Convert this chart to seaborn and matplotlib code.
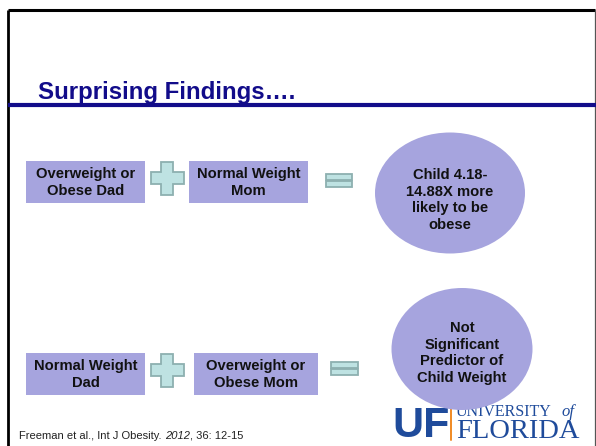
import matplotlib
matplotlib.use("Agg")
import matplotlib.pyplot as plt
import seaborn as sns
from matplotlib.patches import Rectangle, Ellipse, Polygon

sns.set_theme(style="white")
plt.rcParams['font.family'] = ['Liberation Sans', 'DejaVu Sans']

# ---- content ----
title = "Surprising Findings\u2026."
row1_left = "Overweight or\nObese Dad"
row1_mid = "Normal Weight\nMom"
row1_result = "Child 4.18-\n14.88X more\nlikely to be\nobese"
row2_left = "Normal Weight\nDad"
row2_mid = "Overweight or\nObese Mom"
row2_result = "Not\nSignificant\nPredictor of\nChild Weight"
cite_parts = ["Freeman et al., Int J Obesity. ", "2012", ", 36: 12-15"]
cite_styles = ["normal", "italic", "normal"]

# ---- colours ----
BOX = "#A6A4DE"
PLUS_FILL = "#BEE2E2"
PLUS_EDGE = "#8DB0B0"
NAVY = "#120C8A"
UF_BLUE = "#1F4B9B"
UF_ORANGE = "#F08A24"

W, H = 596, 446
fig = plt.figure(figsize=(W / 100, H / 100), dpi=100)
ax = fig.add_axes([0, 0, 1, 1])
ax.set_xlim(0, W)
ax.set_ylim(H, 0)
ax.axis("off")

# slide border
ax.plot([8, 595], [10, 10], color="black", lw=2.2, solid_capstyle="butt")
ax.plot([8, 8], [10, H], color="black", lw=2.0, solid_capstyle="butt")
ax.plot([594.5, 594.5], [10, H], color="#555555", lw=0.9)

# title and rule
ax.text(38, 99, title, fontsize=17.3, fontweight="bold", color=NAVY,
        ha="left", va="baseline")
ax.plot([8, W], [105, 105], color=NAVY, lw=3.0, solid_capstyle="butt", zorder=3)

FS = 10.6


def box(x0, x1, y0, y1, label):
    ax.add_patch(Rectangle((x0, y0), x1 - x0, y1 - y0, facecolor=BOX,
                           edgecolor="none", zorder=2))
    ax.text((x0 + x1) / 2, (y0 + y1) / 2 + 0.5, label, ha="center", va="center",
            fontsize=FS, fontweight="bold", color="#111111", linespacing=1.22,
            zorder=4)


def plus(cx, cy, half, arm):
    pts = [(cx - arm, cy - half), (cx + arm, cy - half), (cx + arm, cy - arm),
           (cx + half, cy - arm), (cx + half, cy + arm), (cx + arm, cy + arm),
           (cx + arm, cy + half), (cx - arm, cy + half), (cx - arm, cy + arm),
           (cx - half, cy + arm), (cx - half, cy - arm), (cx - arm, cy - arm)]
    ax.add_patch(Polygon(pts, closed=True, facecolor=PLUS_FILL,
                         edgecolor=PLUS_EDGE, lw=1.3, zorder=3))


def equals(x0, x1, y0, y1):
    h = (y1 - y0 - 1.5) / 2
    for yy in (y0, y0 + h + 1.5):
        ax.add_patch(Rectangle((x0, yy), x1 - x0, h, facecolor=PLUS_FILL,
                               edgecolor=PLUS_EDGE, lw=1.3, zorder=3))


def bubble(cx, cy, w, h, label, tx, ty):
    ax.add_patch(Ellipse((cx, cy), w, h, facecolor=BOX, edgecolor="none",
                         zorder=6))
    ax.text(tx, ty, label, ha="center", va="center", fontsize=FS,
            fontweight="bold", color="#111111", linespacing=1.22, zorder=7)


# row 1
box(26, 145, 161, 203, row1_left)
plus(167, 178, 16.5, 6)
box(189, 308, 161, 203, row1_mid)
equals(326, 352, 174, 187)
bubble(450, 193, 150, 121, row1_result, 450, 200)

# row 2
box(26, 145, 353, 395, row2_left)
plus(167, 370, 16.5, 6)
box(194, 318, 353, 395, row2_mid)
equals(331, 358, 362, 375)
bubble(462, 349, 141, 122, row2_result, 462, 353)

# citation
prev = ax.text(19, 441, cite_parts[0], fontsize=8, style=cite_styles[0],
               color="#222222", ha="left", va="bottom")
for part, st in zip(cite_parts[1:], cite_styles[1:]):
    prev = ax.annotate(part, xy=(1, 0), xycoords=prev, fontsize=8, style=st,
                       color="#222222", ha="left", va="bottom")

# UF logo
ax.text(392, 437, "UF", fontsize=31, fontweight="bold", color=UF_BLUE,
        ha="left", va="baseline", zorder=4)
ax.plot([451, 451], [402, 440], color=UF_ORANGE, lw=1.4, zorder=4)
ax.text(456, 438.5, "FLORIDA", fontsize=20.5, color=UF_BLUE,
        family=["Liberation Serif"], ha="left", va="baseline", zorder=4)
ax.text(456, 416.5, "UNIVERSITY", fontsize=11.5, color=UF_BLUE,
        family=["Liberation Serif"], ha="left", va="baseline", zorder=4)
ax.text(561, 416.5, "of", fontsize=12, style="italic", color=UF_BLUE,
        family=["Liberation Serif"], ha="left", va="baseline", zorder=4)

fig.savefig("out.png", dpi=100)
